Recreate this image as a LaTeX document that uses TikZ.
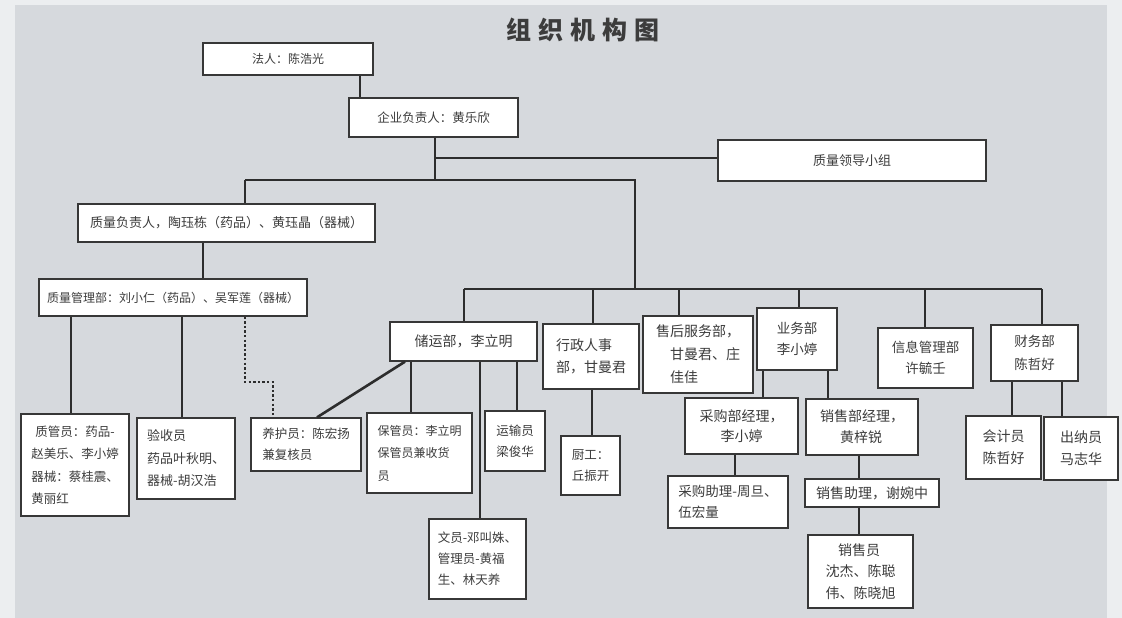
\documentclass[tikz,border=0pt]{standalone}
\usepackage{fontspec}
\setmainfont{Noto Sans CJK SC}
\definecolor{paper}{RGB}{214,217,221}
\definecolor{paperedge}{RGB}{236,238,240}
\definecolor{boxc}{RGB}{55,55,55}
\definecolor{linec}{RGB}{45,45,45}
\definecolor{txt}{RGB}{60,60,60}
\newcommand{\fs}[2]{\fontsize{#1}{#2}\selectfont}
\begin{document}
\begin{tikzpicture}[x=1pt,y=-1pt,
  box/.style={draw=boxc, fill=white, line width=1.3pt, inner sep=0pt, text=txt, align=left},
  cbox/.style={box, align=center},
  conn/.style={draw=linec, line width=2.6pt},
  dotconn/.style={draw=linec, line width=2.4pt, dash pattern=on 2.4pt off 2.2pt}]
% background
\useasboundingbox (0,0) rectangle (1122,618);
\fill[paperedge] (0,0) rectangle (1122,618);
\fill[paper] (15,5) rectangle (1107,618);
% title
\node[anchor=west, text=txt, font={\fs{25}{30}\bfseries\addfontfeature{LetterSpace=28}}] (title) at (503,30) {组织机构图};
% boxes
\node[cbox, minimum width=170pt, minimum height=32pt, font=\fs{12}{16}] (fa) at (288,59) {法人：陈浩光};
\node[cbox, minimum width=169pt, minimum height=39pt, font=\fs{12.5}{16}] (qy) at (433.5,117.5) {企业负责人：黄乐欣};
\node[cbox, minimum width=268pt, minimum height=41pt, font=\fs{13}{16}] (zlld) at (852,160.5) {质量领导小组};
\node[cbox, minimum width=297pt, minimum height=38pt, font=\fs{13}{16}] (zlfz) at (226.5,223) {质量负责人，陶珏栋（药品）、黄珏晶（器械）};
\node[box, minimum width=268pt, minimum height=37pt, font=\fs{12}{16}] (zlgl) at (173,297.5) {质量管理部：刘小仁（药品）、吴军莲（器械）};
\node[box, minimum width=108pt, minimum height=102pt, font=\fs{12.5}{22.5}] (zgy) at (75,465) {\hspace*{4pt}质管员：药品-\\赵美乐、李小婷\\器械：蔡桂震、\\黄丽红};
\node[box, minimum width=98pt, minimum height=81pt, font=\fs{13}{22.5}] (ysy) at (186,458.5) {验收员\\药品叶秋明、\\器械-胡汉浩};
\node[box, minimum width=110pt, minimum height=53pt, font=\fs{12.5}{21}] (yhy) at (306,444.5) {养护员：陈宏扬\\兼复核员};
\node[box, minimum width=147pt, minimum height=39pt, font=\fs{14}{16}] (cy) at (463.5,341.5) {储运部，李立明};
\node[box, minimum width=105pt, minimum height=80pt, font=\fs{12}{22.5}] (bgy) at (419.5,453) {保管员：李立明\\保管员兼收货\\员};
\node[box, minimum width=97pt, minimum height=80pt, font=\fs{12.5}{21}] (wy) at (477.5,559) {文员-邓叫姝、\\管理员-黄福\\生、林天养};
\node[box, minimum width=60pt, minimum height=60pt, font=\fs{12.5}{21}] (ysr) at (515,441) {运输员\\梁俊华};
\node[box, minimum width=96pt, minimum height=65pt, font=\fs{14}{22}] (xz) at (591,356.5) {行政人事\\部，甘曼君};
\node[box, minimum width=59pt, minimum height=59pt, font=\fs{12.5}{21}] (cg) at (590.5,465.5) {厨工：\\丘振开};
\node[box, minimum width=110pt, minimum height=77pt, font=\fs{14}{23}] (sh) at (698,354.5) {售后服务部，\\\hspace*{14pt}甘曼君、庄\\\hspace*{14pt}佳佳};
\node[cbox, minimum width=80pt, minimum height=62pt, font=\fs{13.5}{20.5}] (yw) at (797,339) {业务部\\李小婷};
\node[cbox, minimum width=95pt, minimum height=60pt, font=\fs{13.5}{21}] (xx) at (925.5,358) {信息管理部\\许毓壬};
\node[cbox, minimum width=87pt, minimum height=56pt, font=\fs{13.5}{23}] (cw) at (1034.5,353) {财务部\\陈哲好};
\node[box, minimum width=113pt, minimum height=56pt, font=\fs{14}{20.5}] (cgjl) at (741.5,426) {采购部经理，\\\hspace*{21pt}李小婷};
\node[box, minimum width=112pt, minimum height=56pt, font=\fs{14}{21}] (xsjl) at (862,427) {销售部经理，\\\hspace*{20pt}黄梓锐};
\node[box, minimum width=120pt, minimum height=52pt, font=\fs{13.5}{21}] (cgzl) at (728,502) {采购助理-周旦、\\伍宏量};
\node[cbox, minimum width=134pt, minimum height=28pt, font=\fs{14}{16}] (xszl) at (872,493) {销售助理，谢婉中};
\node[box, minimum width=105pt, minimum height=73pt, font=\fs{14}{21.5}] (xsy) at (860.5,571.5) {\hspace*{12.5pt}销售员\\沈杰、陈聪\\伟、陈晓旭};
\node[cbox, minimum width=75pt, minimum height=63pt, font=\fs{14}{22}] (kjy) at (1003.5,447.5) {会计员\\陈哲好};
\node[cbox, minimum width=74pt, minimum height=63pt, font=\fs{14}{22}] (cny) at (1081,448.5) {出纳员\\马志华};
% junction coordinates
\coordinate (j1) at (435,158);
\coordinate (j2) at (435,180);
\coordinate (jl) at (245,180);
\coordinate (j3) at (635,180);
\coordinate (j4) at (635,289);
\coordinate (bl) at (464,289);
\coordinate (br) at (1042,289);
\coordinate (b2) at (593,289);
\coordinate (b3) at (679,289);
\coordinate (b4) at (799,289);
\coordinate (b5) at (925,289);
\coordinate (dc1) at (245,382);
\coordinate (dc2) at (273,382);
% connectors
\draw[conn] (fa.south -| 360,0) -- (qy.north -| 360,0);
\draw[conn] (qy.south -| j2) -- (j2);
\draw[conn] (j1) -- (j1 -| zlld.west);
\draw[conn] (jl) -- (j3) -- (j4);
\draw[conn] (jl) -- (jl |- zlfz.north);
\draw[conn] (zlfz.south -| 203,0) -- (zlgl.north -| 203,0);
\draw[conn] (bl) -- (br);
\draw[conn] (bl) -- (bl |- cy.north);
\draw[conn] (b2) -- (b2 |- xz.north);
\draw[conn] (b3) -- (b3 |- sh.north);
\draw[conn] (b4) -- (b4 |- yw.north);
\draw[conn] (b5) -- (b5 |- xx.north);
\draw[conn] (br) -- (br |- cw.north);
\draw[conn] (zlgl.south -| 71,0) -- (zgy.north -| 71,0);
\draw[conn] (zlgl.south -| 182,0) -- (ysy.north -| 182,0);
\draw[dotconn] (zlgl.south -| dc1) -- (dc1) -- (dc2) -- (yhy.north -| dc2);
\draw[conn] (cy.south -| 405,0) -- (yhy.north -| 317,0);
\draw[conn] (cy.south -| 411,0) -- (bgy.north -| 411,0);
\draw[conn] (cy.south -| 480,0) -- (wy.north -| 480,0);
\draw[conn] (cy.south -| 517,0) -- (ysr.north -| 517,0);
\draw[conn] (xz.south -| 592,0) -- (cg.north -| 592,0);
\draw[conn] (yw.south -| 763,0) -- (cgjl.north -| 763,0);
\draw[conn] (yw.south -| 828,0) -- (xsjl.north -| 828,0);
\draw[conn] (cgjl.south -| 735,0) -- (cgzl.north -| 735,0);
\draw[conn] (xsjl.south -| 859,0) -- (xszl.north -| 859,0);
\draw[conn] (xszl.south -| 859,0) -- (xsy.north -| 859,0);
\draw[conn] (cw.south -| 1012,0) -- (kjy.north -| 1012,0);
\draw[conn] (cw.south -| 1062,0) -- (cny.north -| 1062,0);
\end{tikzpicture}
\end{document}
